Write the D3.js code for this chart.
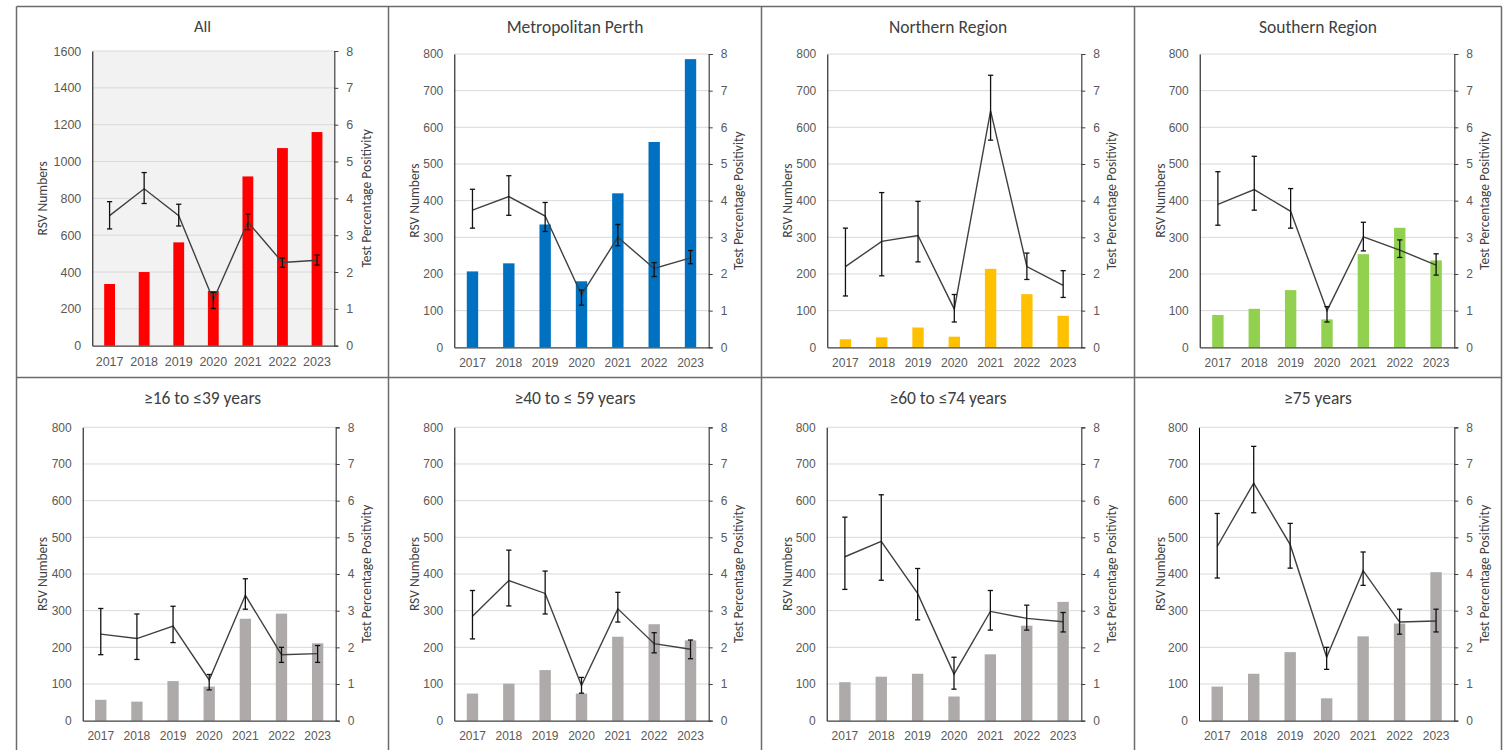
<!DOCTYPE html>
<html>
<head>
<meta charset="utf-8">
<script src="https://cdn.jsdelivr.net/npm/d3@7"></script>
<style>
  body { margin: 0; background: #fff; }
  svg { display: block; font-family: Carlito, Calibri, Lato, "Open Sans", sans-serif; }
</style>
</head>
<body>
<svg id="chart" width="1504" height="750"></svg>
<script>
// Years shown on every panel
const years = ["2017", "2018", "2019", "2020", "2021", "2022", "2023"];

// All cases
const allCounts = [335, 400, 561, 297, 919, 1073, 1160];
const allPct    = [3.53, 4.26, 3.53, 1.24, 3.36, 2.26, 2.32];
const allLo     = [3.17, 3.86, 3.25, 1.01, 3.15, 2.13, 2.19];
const allHi     = [3.91, 4.70, 3.84, 1.45, 3.58, 2.38, 2.46];

// Metropolitan Perth
const metroCounts = [207, 229, 335, 180, 420, 560, 786];
const metroPct    = [3.74, 4.11, 3.58, 1.43, 3.00, 2.15, 2.44];
const metroLo     = [3.25, 3.60, 3.16, 1.15, 2.77, 1.93, 2.28];
const metroHi     = [4.31, 4.68, 3.95, 1.56, 3.35, 2.31, 2.64];

// Northern Region
const northCounts = [22, 27, 54, 29, 214, 145, 86];
const northPct    = [2.20, 2.89, 3.05, 1.04, 6.45, 2.20, 1.69];
const northLo     = [1.40, 1.95, 2.33, 0.69, 5.65, 1.85, 1.36];
const northHi     = [3.25, 4.22, 3.98, 1.44, 7.42, 2.57, 2.09];

// Southern Region
const southCounts = [88, 105, 156, 76, 254, 326, 237];
const southPct    = [3.90, 4.30, 3.71, 1.00, 3.01, 2.65, 2.24];
const southLo     = [3.33, 3.74, 3.25, 0.69, 2.63, 2.45, 1.97];
const southHi     = [4.79, 5.21, 4.33, 1.11, 3.41, 2.93, 2.55];

// Age 16 to 39
const age16Counts = [57, 52, 108, 93, 278, 292, 211];
const age16Pct    = [2.36, 2.24, 2.58, 1.11, 3.42, 1.80, 1.83];
const age16Lo     = [1.80, 1.67, 2.13, 0.84, 3.04, 1.59, 1.59];
const age16Hi     = [3.06, 2.91, 3.12, 1.26, 3.87, 2.00, 2.05];

// Age 40 to 59
const age40Counts = [74, 101, 138, 74, 229, 263, 219];
const age40Pct    = [2.85, 3.82, 3.47, 0.96, 3.05, 2.10, 1.95];
const age40Lo     = [2.23, 3.13, 2.91, 0.75, 2.69, 1.85, 1.69];
const age40Hi     = [3.55, 4.65, 4.08, 1.18, 3.50, 2.40, 2.20];

// Age 60 to 74
const age60Counts = [105, 120, 128, 66, 181, 259, 324];
const age60Pct    = [4.47, 4.89, 3.47, 1.27, 2.98, 2.79, 2.70];
const age60Lo     = [3.58, 3.83, 2.75, 0.86, 2.47, 2.47, 2.42];
const age60Hi     = [5.55, 6.16, 4.15, 1.73, 3.55, 3.15, 2.95];

// Age 75 and over
const age75Counts = [93, 128, 187, 61, 230, 265, 405];
const age75Pct    = [4.75, 6.48, 4.80, 1.73, 4.09, 2.69, 2.72];
const age75Lo     = [3.89, 5.67, 4.16, 1.40, 3.69, 2.36, 2.42];
const age75Hi     = [5.65, 7.48, 5.38, 2.00, 4.60, 3.04, 3.04];

// Axis ticks
const countTicksWide = [0, 200, 400, 600, 800, 1000, 1200, 1400, 1600];
const countTicks = [0, 100, 200, 300, 400, 500, 600, 700, 800];
const pctTicks = [0, 1, 2, 3, 4, 5, 6, 7, 8];

const leftTitle = "RSV Numbers";
const rightTitle = "Test Percentage Positivity";

// Panel frame grid
const colEdges = [16.5, 388.5, 761.5, 1134.5, 1501.5];
const rowEdges = [6.5, 377.5, 750];

const panels = [
  { title: "All", counts: allCounts, pct: allPct, lo: allLo, hi: allHi, color: "#FF0000",
    ticks: countTicksWide, shade: true, col: 0, row: 0, plot: [92.3, 51, 334.3, 345.7],
    titleSize: 16.5, titleY: 19.5, tickSize: 12.5 },
  { title: "Metropolitan Perth", counts: metroCounts, pct: metroPct, lo: metroLo, hi: metroHi, color: "#0070C0",
    ticks: countTicks, col: 1, row: 0, plot: [454.3, 54, 708.7, 347.3] },
  { title: "Northern Region", counts: northCounts, pct: northPct, lo: northLo, hi: northHi, color: "#FFC000",
    ticks: countTicks, col: 2, row: 0, plot: [827.3, 54, 1081.3, 347.3] },
  { title: "Southern Region", counts: southCounts, pct: southPct, lo: southLo, hi: southHi, color: "#92D050",
    ticks: countTicks, col: 3, row: 0, plot: [1199.7, 54, 1454.3, 347.3] },
  { title: "\u226516 to \u226439 years", counts: age16Counts, pct: age16Pct, lo: age16Lo, hi: age16Hi, color: "#AEAAAA",
    ticks: countTicks, col: 0, row: 1, plot: [82.7, 427.3, 335.7, 720.7] },
  { title: "\u226540 to \u2264 59 years", counts: age40Counts, pct: age40Pct, lo: age40Lo, hi: age40Hi, color: "#AEAAAA",
    ticks: countTicks, col: 1, row: 1, plot: [454.3, 427.3, 708.7, 720.7] },
  { title: "\u226560 to \u226474 years", counts: age60Counts, pct: age60Pct, lo: age60Lo, hi: age60Hi, color: "#AEAAAA",
    ticks: countTicks, col: 2, row: 1, plot: [826.7, 427.3, 1081.3, 720.7] },
  { title: "\u226575 years", counts: age75Counts, pct: age75Pct, lo: age75Lo, hi: age75Hi, color: "#AEAAAA",
    ticks: countTicks, col: 3, row: 1, plot: [1199, 427.3, 1454.3, 720.7] }
];

const svg = d3.select("#chart");

// Thin frames around each panel
const frame = svg.append("g").attr("stroke", "#6b6b6b").attr("stroke-width", 1.5).attr("fill", "none");
colEdges.forEach(x => frame.append("line").attr("x1", x).attr("x2", x).attr("y1", rowEdges[0]).attr("y2", rowEdges[2]));
rowEdges.slice(0, 2).forEach(y => frame.append("line").attr("x1", colEdges[0]).attr("x2", colEdges[4]).attr("y1", y).attr("y2", y));

const tickColor = "#595959";

panels.forEach(p => {
  const [x0, y0, x1, y1] = p.plot;
  const boxL = colEdges[p.col], boxR = colEdges[p.col + 1];
  const boxT = rowEdges[p.row];
  const fs = p.tickSize || 12;
  const g = svg.append("g");

  const x = d3.scaleBand().domain(years).range([x0, x1]).paddingInner(0.687).paddingOuter(0.3435);
  const yCount = d3.scaleLinear().domain([0, d3.max(p.ticks)]).range([y1, y0]);
  const yPct = d3.scaleLinear().domain([0, 8]).range([y1, y0]);
  const cx = d => x(d) + x.bandwidth() / 2;

  if (p.shade) {
    g.append("rect").attr("x", x0).attr("y", y0).attr("width", x1 - x0).attr("height", y1 - y0).attr("fill", "#F2F2F2");
  }

  // Horizontal gridlines
  g.append("g").selectAll("line").data(p.ticks.slice(1)).join("line")
    .attr("x1", x0).attr("x2", x1)
    .attr("y1", d => yCount(d)).attr("y2", d => yCount(d))
    .attr("stroke", "#D9D9D9").attr("stroke-width", 1);

  // Bars: RSV numbers
  g.append("g").selectAll("rect").data(years).join("rect")
    .attr("x", d => x(d))
    .attr("width", x.bandwidth())
    .attr("y", (d, i) => yCount(p.counts[i]))
    .attr("height", (d, i) => y1 - yCount(p.counts[i]))
    .attr("fill", p.color);

  // Line: test percentage positivity
  const line = d3.line().x((d, i) => cx(years[i])).y(d => yPct(d));
  g.append("path").datum(p.pct).attr("d", line)
    .attr("fill", "none").attr("stroke", "#404040").attr("stroke-width", 1.4);

  // Error bars with caps
  const eb = g.append("g").attr("stroke", "#111").attr("stroke-width", 1.3);
  years.forEach((yr, i) => {
    const xc = cx(yr);
    eb.append("line").attr("x1", xc).attr("x2", xc).attr("y1", yPct(p.lo[i])).attr("y2", yPct(p.hi[i]));
    eb.append("line").attr("x1", xc - 2.6).attr("x2", xc + 2.6).attr("y1", yPct(p.lo[i])).attr("y2", yPct(p.lo[i]));
    eb.append("line").attr("x1", xc - 2.6).attr("x2", xc + 2.6).attr("y1", yPct(p.hi[i])).attr("y2", yPct(p.hi[i]));
  });

  // Left axis
  const axL = g.append("g").attr("transform", `translate(${x0},0)`)
    .call(d3.axisLeft(yCount).tickValues(p.ticks).tickFormat(d3.format("d")).tickSize(0).tickPadding(11));
  axL.select(".domain").attr("stroke", "#000").attr("stroke-width", 1);
  axL.selectAll("text").attr("fill", tickColor).attr("font-size", fs).attr("font-family", null);

  // Right axis
  const axR = g.append("g").attr("transform", `translate(${x1},0)`)
    .call(d3.axisRight(yPct).tickValues(pctTicks).tickFormat(d3.format("d")).tickSize(4).tickPadding(8));
  axR.select(".domain").attr("stroke", "#404040").attr("stroke-width", 1.2);
  axR.selectAll(".tick line").attr("stroke", "#404040");
  axR.selectAll("text").attr("fill", tickColor).attr("font-size", fs).attr("font-family", null);

  // Bottom axis
  const axB = g.append("g").attr("transform", `translate(0,${y1})`)
    .call(d3.axisBottom(x).tickSize(0).tickPadding(11));
  axB.select(".domain").attr("stroke", "#404040").attr("stroke-width", 1.2);
  axB.selectAll("text").attr("fill", tickColor).attr("font-size", fs).attr("font-family", null);

  // Titles
  g.append("text").attr("x", (boxL + boxR) / 2).attr("y", boxT + (p.titleY || 20.5))
    .attr("text-anchor", "middle").attr("dominant-baseline", "central")
    .attr("font-size", p.titleSize || 17.5).attr("fill", "#404040").text(p.title);

  const midY = (y0 + y1) / 2;
  g.append("text").attr("transform", `translate(${boxL + 26},${midY}) rotate(-90)`)
    .attr("text-anchor", "middle").attr("dominant-baseline", "central")
    .attr("font-size", 13.5).attr("fill", "#404040").text(leftTitle);
  g.append("text").attr("transform", `translate(${boxL + 350},${midY}) rotate(-90)`)
    .attr("text-anchor", "middle").attr("dominant-baseline", "central")
    .attr("font-size", 13.5).attr("fill", "#404040").text(rightTitle);
});
</script>
</body>
</html>
